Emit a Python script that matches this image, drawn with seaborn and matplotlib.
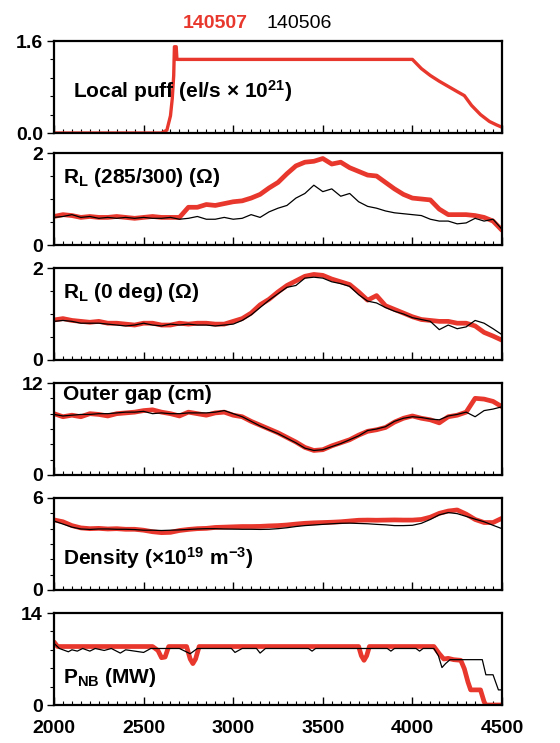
import numpy as np
import pandas as pd
import seaborn as sns
import matplotlib.pyplot as plt
from matplotlib.ticker import MultipleLocator, FixedLocator

# time base (ms) for the 50 ms sampled traces
t = list(range(2000, 4501, 50))

# Local puff (shot 140507 only)
puff_t = [2000, 2600, 2630, 2650, 2660, 2668, 2672, 2682, 2686, 4000, 4050, 4100,
          4150, 4200, 4250, 4290, 4330, 4380, 4430, 4470, 4500]
puff_red = [0.0, 0.0, 0.05, 0.3, 0.6, 1.0, 1.5, 1.5, 1.28, 1.28, 1.12, 1.0,
            0.9, 0.81, 0.72, 0.65, 0.48, 0.32, 0.2, 0.14, 0.1]

# R_L (285/300)
rl285_red = [0.62, 0.66, 0.64, 0.6, 0.62, 0.6, 0.6, 0.62, 0.6, 0.58, 0.6, 0.62, 0.6,
             0.6, 0.6, 0.82, 0.82, 0.88, 0.86, 0.9, 0.94, 0.96, 1.02, 1.1, 1.24, 1.36,
             1.55, 1.72, 1.8, 1.82, 1.88, 1.76, 1.8, 1.68, 1.6, 1.52, 1.5, 1.36, 1.22,
             1.1, 1.02, 1.0, 0.98, 0.78, 0.66, 0.66, 0.66, 0.64, 0.6, 0.52, 0.32]
rl285_blk = [0.6, 0.62, 0.66, 0.6, 0.62, 0.58, 0.6, 0.58, 0.6, 0.58, 0.6, 0.58, 0.58,
             0.6, 0.56, 0.58, 0.62, 0.56, 0.56, 0.6, 0.56, 0.58, 0.66, 0.6, 0.72, 0.8,
             0.86, 1.02, 1.12, 1.3, 1.16, 1.22, 1.06, 1.12, 0.94, 0.84, 0.8, 0.74, 0.7,
             0.68, 0.66, 0.64, 0.56, 0.52, 0.52, 0.46, 0.48, 0.58, 0.52, 0.56, 0.34]

# R_L (0 deg)
rl0_red = [0.87, 0.9, 0.86, 0.84, 0.82, 0.84, 0.8, 0.8, 0.78, 0.76, 0.8, 0.8, 0.76,
           0.76, 0.8, 0.78, 0.8, 0.8, 0.78, 0.78, 0.84, 0.9, 1.02, 1.2, 1.32, 1.48,
           1.62, 1.72, 1.82, 1.86, 1.84, 1.76, 1.7, 1.64, 1.48, 1.3, 1.4, 1.18, 1.1,
           1.02, 0.94, 0.88, 0.86, 0.84, 0.84, 0.8, 0.8, 0.74, 0.6, 0.52, 0.43]
rl0_blk = [0.84, 0.86, 0.84, 0.8, 0.8, 0.8, 0.78, 0.76, 0.74, 0.76, 0.8, 0.76, 0.74,
           0.78, 0.76, 0.78, 0.76, 0.76, 0.74, 0.76, 0.78, 0.86, 0.98, 1.14, 1.3, 1.44,
           1.58, 1.62, 1.78, 1.8, 1.78, 1.7, 1.66, 1.6, 1.42, 1.28, 1.24, 1.14, 1.06,
           1.0, 0.92, 0.88, 0.84, 0.66, 0.76, 0.68, 0.72, 0.86, 0.8, 0.68, 0.55]

# Outer gap
gap_red = [8.0, 7.6, 7.8, 7.6, 8.0, 7.9, 7.7, 8.0, 8.1, 8.2, 8.4, 8.5, 8.2, 8.0, 7.7,
           8.2, 8.0, 7.8, 8.1, 8.2, 7.8, 7.6, 7.0, 6.5, 6.0, 5.5, 4.9, 4.3, 3.6, 3.2,
           3.3, 3.8, 4.2, 4.6, 5.2, 5.7, 5.9, 6.2, 6.9, 7.4, 7.7, 7.4, 7.2, 6.8, 7.6,
           7.8, 8.2, 10.0, 9.9, 9.6, 8.9]
gap_blk = [7.9, 7.7, 7.8, 7.9, 7.9, 8.0, 8.0, 8.1, 8.2, 8.2, 8.3, 8.0, 8.1, 8.0, 8.0,
           8.1, 8.1, 8.1, 8.2, 8.4, 8.0, 7.6, 7.0, 6.4, 5.9, 5.4, 4.8, 4.2, 3.5, 3.2,
           3.3, 3.7, 4.1, 4.6, 5.1, 5.8, 6.0, 6.3, 7.0, 7.4, 7.6, 7.5, 7.3, 7.2, 7.7,
           7.9, 8.2, 7.6, 8.4, 8.6, 8.9]

# Density
dens_red = [4.57, 4.45, 4.2, 4.05, 4.0, 4.02, 3.98, 4.0, 3.96, 3.96, 3.9, 3.8, 3.74,
            3.76, 3.88, 3.95, 4.0, 4.02, 4.08, 4.1, 4.12, 4.14, 4.14, 4.15, 4.18, 4.2,
            4.24, 4.3, 4.35, 4.38, 4.4, 4.42, 4.45, 4.5, 4.55, 4.56, 4.55, 4.56, 4.57,
            4.56, 4.56, 4.6, 4.75, 5.0, 5.15, 5.22, 4.95, 4.6, 4.4, 4.4, 4.68]
dens_blk = [4.5, 4.3, 4.1, 3.98, 3.95, 3.98, 3.98, 3.96, 3.96, 3.94, 3.9, 3.9, 3.88,
            3.9, 3.92, 3.95, 3.98, 4.0, 4.0, 3.98, 3.97, 3.96, 3.96, 3.95, 3.96, 4.0,
            4.06, 4.14, 4.2, 4.24, 4.28, 4.32, 4.35, 4.36, 4.34, 4.32, 4.28, 4.25, 4.2,
            4.2, 4.22, 4.35, 4.6, 4.9, 5.05, 4.98, 4.8, 4.62, 4.45, 4.22, 4.0]

# Neutral beam power
pnb_red_t = [2000, 2020, 2550, 2580, 2600, 2620, 2640, 2740, 2760, 2775, 2790, 2810,
             3700, 3715, 3730, 3745, 3760, 4120, 4150, 4175, 4200, 4230, 4270, 4290,
             4310, 4325, 4380, 4400, 4410, 4500]
pnb_red = [9.6, 8.9, 8.9, 8.3, 7.2, 7.3, 8.9, 8.9, 7.0, 6.3, 7.0, 8.9,
           8.9, 7.5, 6.8, 7.5, 8.9, 8.9, 7.8, 7.0, 7.1, 6.9, 6.8, 5.5,
           3.5, 2.3, 2.3, 0.5, 0.0, 0.0]
pnb_blk_t = [2000, 2030, 2080, 2100, 2130, 2160, 2200, 2230, 2280, 2320, 2370, 2400,
             2450, 2500, 2540, 2700, 2760, 2800, 2990, 3010, 3050, 3130, 3150, 3180,
             3420, 3440, 3460, 3860, 3880, 3900, 4020, 4040, 4060, 4120, 4145, 4165,
             4185, 4210, 4390, 4410, 4450, 4480, 4500]
pnb_blk = [9.4, 8.6, 8.1, 8.4, 8.2, 8.6, 8.2, 8.6, 8.3, 8.6, 7.9, 8.4,
           8.2, 8.0, 8.6, 8.6, 7.8, 8.6, 8.6, 8.0, 8.6, 8.6, 7.9, 8.6,
           8.6, 8.2, 8.6, 8.6, 8.2, 8.6, 8.6, 8.2, 8.6, 8.6, 7.5, 5.7,
           6.3, 6.9, 6.9, 4.6, 4.6, 2.3, 2.3]

labels = ['Local puff (el/s \u00d7 10$^{21}$)',
          'R$_L$ (285/300) (\u03a9)',
          'R$_L$ (0 deg) (\u03a9)',
          'Outer gap (cm)',
          'Density (\u00d710$^{19}$ m$^{\u22123}$)',
          'P$_{NB}$ (MW)']
ymax = [1.6, 2, 2, 12, 6, 14]
ytick_text = [('0.0', '1.6'), ('0', '2'), ('0', '2'), ('0', '12'), ('0', '6'), ('0', '14')]
yminor_n = [5, 4, 4, 6, 6, 5]
label_pos = [(0.042, 0.46), (0.02, 0.73), (0.02, 0.73), (0.02, 0.87), (0.02, 0.35), (0.02, 0.30)]

RED = '#e8372c'

sns.set_style('ticks')
plt.rcParams['font.family'] = ['Liberation Sans Narrow', 'Liberation Sans', 'DejaVu Sans']
plt.rcParams['font.weight'] = 'bold'
plt.rcParams['mathtext.default'] = 'regular'
for key in ['text.color', 'axes.labelcolor', 'xtick.color', 'ytick.color', 'axes.edgecolor']:
    plt.rcParams[key] = 'black'

fig = plt.figure(figsize=(5.6, 7.43), dpi=100)
bottoms_px = [133, 245, 360, 475, 590, 705]
axes = []
for b in bottoms_px:
    axes.append(fig.add_axes([54 / 560, 1 - b / 743, 448 / 560, 92 / 743]))

series = [
    (None, puff_t, puff_red),
    ((t, rl285_blk), t, rl285_red),
    ((t, rl0_blk), t, rl0_red),
    ((t, gap_blk), t, gap_red),
    ((t, dens_blk), t, dens_red),
    ((pnb_blk_t, pnb_blk), pnb_red_t, pnb_red),
]

for i, ax in enumerate(axes):
    blk, rt, rv = series[i]
    lw_red = 2.4 if i == 0 else 3.4
    sns.lineplot(x=rt, y=rv, ax=ax, color=RED, linewidth=lw_red, estimator=None, sort=False)
    if blk is not None:
        sns.lineplot(x=blk[0], y=blk[1], ax=ax, color='black', linewidth=0.9,
                     estimator=None, sort=False)
    ax.set_xlim(2000, 4500)
    ax.set_ylim(0, ymax[i])
    ax.set_xlabel('')
    ax.set_ylabel('')
    for s in ax.spines.values():
        s.set_linewidth(1.6)
        s.set_color('black')
    ax.xaxis.set_major_locator(MultipleLocator(500))
    ax.xaxis.set_minor_locator(MultipleLocator(50))
    ax.tick_params(axis='x', which='major', direction='in', length=6, width=1.0, top=False)
    ax.tick_params(axis='x', which='minor', direction='in', length=3, width=0.8, top=False)
    ax.set_yticks([0, ymax[i]])
    ax.set_yticklabels(ytick_text[i])
    step = ymax[i] / yminor_n[i]
    ax.yaxis.set_minor_locator(FixedLocator([step * k for k in range(1, yminor_n[i])]))
    ax.tick_params(axis='y', which='major', direction='out', length=5, width=1.0,
                   labelsize=14, pad=3)
    ax.tick_params(axis='y', which='minor', direction='out', length=3, width=0.8)
    if i < 5:
        ax.tick_params(axis='x', labelbottom=False)
    else:
        ax.tick_params(axis='x', labelsize=14, pad=11)
    for lab in ax.get_xticklabels() + ax.get_yticklabels():
        lab.set_fontweight('bold')
    ax.text(label_pos[i][0], label_pos[i][1], labels[i], transform=ax.transAxes,
            fontsize=15, fontweight='bold', ha='left', va='center')

fig.text(248 / 560, 1 - 23 / 743, '140507', color=RED, fontsize=14, fontweight='bold',
         ha='right', va='center')
fig.text(267 / 560, 1 - 23 / 743, '140506', color='black', fontsize=14, fontweight='normal',
         ha='left', va='center')

fig.savefig('out.png', dpi=100)
